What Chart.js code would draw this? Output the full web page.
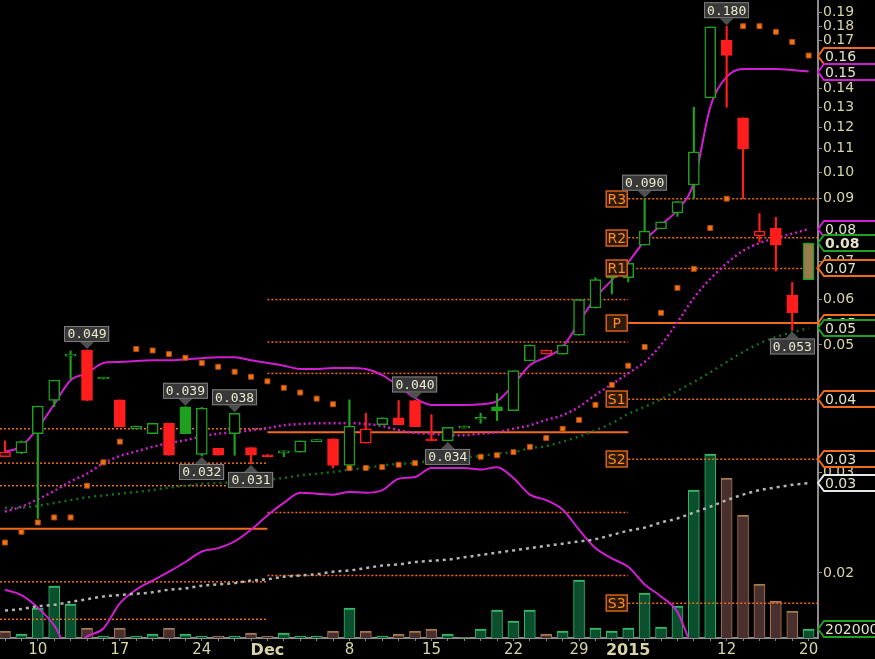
<!DOCTYPE html>
<html>
<head>
<meta charset="utf-8">
<title>Daily chart</title>
<script src="https://cdn.jsdelivr.net/npm/chart.js@4.4.1/dist/chart.umd.min.js"></script>
<style>
  html, body { margin: 0; padding: 0; background: #000; }
  #wrap { width: 875px; height: 659px; }
</style>
</head>
<body>
<div id="wrap"><canvas id="chart" width="875" height="659"></canvas></div>
<script>
// ---------- DATA ----------
const dates = [
  "2014-11-06","2014-11-07","2014-11-10","2014-11-11","2014-11-12","2014-11-13","2014-11-14",
  "2014-11-17","2014-11-18","2014-11-19","2014-11-20","2014-11-21","2014-11-24","2014-11-25",
  "2014-11-26","2014-11-28","2014-12-01","2014-12-02","2014-12-03","2014-12-04","2014-12-05",
  "2014-12-08","2014-12-09","2014-12-10","2014-12-11","2014-12-12","2014-12-15","2014-12-16",
  "2014-12-17","2014-12-18","2014-12-19","2014-12-22","2014-12-23","2014-12-24","2014-12-26",
  "2014-12-29","2014-12-30","2014-12-31","2015-01-02","2015-01-05","2015-01-06","2015-01-07",
  "2015-01-08","2015-01-09","2015-01-12","2015-01-13","2015-01-14","2015-01-15","2015-01-16",
  "2015-01-20"
];

const opens = [0.0319,0.0324,0.0350,0.0400,0.0478,0.0490,0.0436,0.0401,0.0357,0.0350,
  0.0365,0.0390,0.0322,0.0330,0.0350,0.0331,0.0321,0.0324,0.0325,0.0339,
  0.0343,0.0308,0.0337,0.0363,0.0373,0.0400,0.0341,0.0340,0.0358,0.0371,
  0.0390,0.0384,0.0469,0.0482,0.0482,0.0520,0.0580,0.0670,0.0655,0.0747,
  0.0797,0.0850,0.0951,0.1350,0.1700,0.1245,0.0775,0.0800,0.0611,0.0650];
const highs = [0.0340,0.0340,0.0391,0.0434,0.0488,0.0490,0.0438,0.0401,0.0361,0.0365,
  0.0365,0.0390,0.0389,0.0330,0.0380,0.0331,0.0322,0.0327,0.0340,0.0342,
  0.0343,0.0401,0.0380,0.0373,0.0400,0.0400,0.0378,0.0359,0.0361,0.0380,
  0.0411,0.0451,0.0500,0.0490,0.0500,0.0600,0.0655,0.0670,0.0694,0.0900,
  0.0820,0.0890,0.1300,0.1795,0.1800,0.1245,0.0848,0.0835,0.0643,0.0753];
const lows = [0.0319,0.0323,0.0249,0.0390,0.0436,0.0400,0.0436,0.0360,0.0357,0.0350,
  0.0321,0.0350,0.0320,0.0321,0.0321,0.0310,0.0319,0.0319,0.0325,0.0339,
  0.0305,0.0308,0.0337,0.0363,0.0363,0.0360,0.0340,0.0340,0.0358,0.0365,
  0.0369,0.0384,0.0469,0.0482,0.0482,0.0520,0.0580,0.0614,0.0644,0.0747,
  0.0797,0.0838,0.0900,0.1350,0.1300,0.0900,0.0756,0.0673,0.0530,0.0650];
const closes = [0.0325,0.0339,0.0391,0.0434,0.0482,0.0400,0.0438,0.0360,0.0361,0.0365,
  0.0321,0.0350,0.0388,0.0321,0.0380,0.0321,0.0319,0.0325,0.0340,0.0341,
  0.0308,0.0361,0.0357,0.0373,0.0363,0.0360,0.0340,0.0359,0.0360,0.0372,
  0.0384,0.0451,0.0500,0.0490,0.0500,0.0600,0.0650,0.0655,0.0694,0.0790,
  0.0820,0.0890,0.1086,0.1795,0.1600,0.1100,0.0790,0.0747,0.0569,0.0753];
const priorClose = 0.0335;

const volumes = [157000,90000,673000,1167000,763000,224000,45000,224000,45000,90000,
  224000,90000,45000,45000,45000,112000,45000,112000,45000,45000,
  157000,673000,157000,45000,90000,157000,202000,90000,10000,202000,
  628000,382000,628000,90000,157000,1302000,224000,157000,224000,1010000,
  247000,718000,3322000,4130000,3591000,2761000,1212000,830000,606000,202000];

const bbUpper = [0.0325,0.0333,0.0358,0.0394,0.0434,0.0446,0.0465,0.0467,0.0469,0.0470,
  0.0470,0.0472,0.0474,0.0476,0.0476,0.0470,0.0465,0.0460,0.0454,0.0454,
  0.0456,0.0456,0.0454,0.0443,0.0424,0.0404,0.0393,0.0393,0.0393,0.0394,
  0.0399,0.0426,0.0461,0.0476,0.0496,0.0548,0.0604,0.0649,0.0697,0.0760,
  0.0810,0.0860,0.0959,0.1300,0.1468,0.1516,0.1516,0.1516,0.1510,0.1500];
const bbLower = [0.0187,0.0183,0.0174,0.0162,0.0146,0.0155,0.0160,0.0177,0.0187,0.0194,
  0.0201,0.0209,0.0218,0.0221,0.0227,0.0238,0.0252,0.0265,0.0276,0.0275,
  0.0274,0.0277,0.0276,0.0279,0.0292,0.0294,0.0305,0.0305,0.0305,0.0303,
  0.0306,0.0293,0.0274,0.0268,0.0258,0.0238,0.0221,0.0212,0.0205,0.0191,
  0.0182,0.0171,0.0145,null,null,null,null,null,null,null];
const bbMid = [0.0256,0.0261,0.0269,0.0278,0.0289,0.0298,0.0311,0.0320,0.0326,0.0332,
  0.0337,0.0341,0.0346,0.0350,0.0352,0.0355,0.0358,0.0362,0.0364,0.0365,
  0.0365,0.0365,0.0364,0.0361,0.0355,0.0351,0.0350,0.0348,0.0348,0.0350,
  0.0352,0.0357,0.0362,0.0370,0.0377,0.0390,0.0409,0.0427,0.0446,0.0467,
  0.0500,0.0548,0.0604,0.0652,0.0694,0.0730,0.0753,0.0769,0.0782,0.0797];
const ma50 = [0.0260,0.0260,0.0262,0.0265,0.0268,0.0271,0.0273,0.0275,0.0277,0.0279,
  0.0282,0.0284,0.0286,0.0287,0.0288,0.0290,0.0291,0.0293,0.0296,0.0298,
  0.0300,0.0303,0.0305,0.0308,0.0310,0.0311,0.0314,0.0315,0.0318,0.0320,
  0.0323,0.0325,0.0330,0.0333,0.0339,0.0346,0.0355,0.0365,0.0379,0.0390,
  0.0402,0.0416,0.0431,0.0448,0.0467,0.0486,0.0503,0.0516,0.0526,0.0535];
const ma200 = [0.0172,0.0173,0.0175,0.0176,0.0178,0.0180,0.0182,0.0183,0.0184,0.0185,
  0.0187,0.0188,0.0190,0.0191,0.0192,0.0194,0.0195,0.0197,0.0198,0.0199,
  0.0201,0.0202,0.0204,0.0206,0.0207,0.0209,0.0210,0.0211,0.0213,0.0215,
  0.0217,0.0219,0.0221,0.0223,0.0225,0.0227,0.0229,0.0233,0.0237,0.0240,
  0.0245,0.0249,0.0255,0.0261,0.0268,0.0274,0.0279,0.0282,0.0285,0.0287];
const sar = [0.0226,0.0236,0.0245,0.0250,0.0250,0.0284,0.0312,0.0339,0.0492,0.0489,
  0.0482,0.0475,0.0465,0.0458,0.0449,0.0440,0.0432,0.0421,0.0413,0.0403,
  0.0394,0.0305,0.0305,0.0306,0.0309,0.0311,0.0314,0.0315,0.0318,0.0319,
  0.0321,0.0325,0.0332,0.0344,0.0357,0.0370,0.0393,0.0426,0.0460,0.0496,
  0.0569,0.0629,0.0679,0.0800,0.0900,0.1800,0.1800,0.1760,0.1690,0.1600];

// monthly pivot levels (R3, R2, R1, P, S1, S2, S3)
const pivotNames = ["R3","R2","R1","P","S1","S2","S3"];
const pivotNov = [0.0357,0.0311,0.0284,0.0239,0.0193,0.0166,null];
const pivotDec = [0.0600,0.0506,0.0446,0.0352,0.0255,0.0198,null];
const pivotJan = [0.0900,0.0769,0.0680,0.0546,0.0402,0.0316,0.0177];
const pivotStarts = ["2014-12-01","2015-01-02"];

// high / low callouts
const calloutHigh = [5, 11, 14, 25, 39, 44];
const calloutLow = [12, 15, 27, 48];

// axis labels
const yTicks = [0.02,0.03,0.04,0.05,0.06,0.07,0.08,0.09,0.10,0.11,0.12,0.13,0.14,0.15,0.16,0.17,0.18,0.19];
const tickDates = ["2014-11-10","2014-11-17","2014-11-24","2014-12-01","2014-12-08","2014-12-15",
  "2014-12-22","2014-12-29","2015-01-02","2015-01-12","2015-01-20"];
const tickLabels = ["10","17","24","Dec","8","15","22","29","2015","12","20"];

// ---------- STYLE ----------
const UP = "#1fa01f";
const DOWN = "#ff1d1d";
const ORANGE = "#f26a1b";
const MAGENTA = "#d21ed2";
const TXT = "#d8d4a6";
const X_MIN = -0.305, X_MAX = 49.57;
const Y_MIN = 0.0154, Y_MAX = 0.2;
const VOL_MAX = 14320000;

const idx = dates.map((d, i) => i);
const last = a => a[a.length - 1];
const prevClose = i => i === 0 ? priorClose : closes[i - 1];
const isUp = i => closes[i] >= prevClose(i);
const candleColor = i => isUp(i) ? UP : DOWN;

const xLabels = {};
tickDates.forEach((d, k) => { xLabels[dates.indexOf(d)] = tickLabels[k]; });

// ---------- DATASETS ----------
const datasets = [];

datasets.push({
  type: "bar",
  yAxisID: "yv",
  grouped: false,
  order: 10,
  data: idx.map(i => ({ x: i, y: volumes[i] })),
  barThickness: 11,
  backgroundColor: ctx => isUp(ctx.dataIndex || 0) ? "#0b4f2e" : "#4a2f2f",
  borderColor: ctx => isUp(ctx.dataIndex || 0) ? "#35b865" : "#a47a50",
  borderWidth: { top: 2, left: 1, right: 1, bottom: 0 }
});

const starts = pivotStarts.map(d => dates.indexOf(d));
const ranges = [[X_MIN, starts[0]], [starts[0], starts[1]], [starts[1], X_MAX]];
[pivotNov, pivotDec, pivotJan].forEach((levels, p) => {
  levels.forEach((v, k) => {
    if (v == null) return;
    const solid = pivotNames[k] === "P";
    datasets.push({
      type: "line",
      order: 9,
      data: [{ x: ranges[p][0], y: v }, { x: ranges[p][1], y: v }],
      borderColor: ORANGE,
      borderWidth: solid ? 2 : 1.5,
      borderDash: solid ? [] : [2, 2],
      pointRadius: 0
    });
  });
});

function lineSet(values, color, width, dash) {
  return {
    type: "line",
    order: 5,
    data: idx.map(i => ({ x: i, y: values[i] })),
    borderColor: color,
    borderWidth: width,
    borderDash: dash,
    pointRadius: 0,
    cubicInterpolationMode: "monotone"
  };
}
datasets.push(lineSet(ma200, "#b4b4b4", 2.5, [3, 4]));
datasets.push(lineSet(ma50, "#11701f", 2.5, [2, 4]));
datasets.push(lineSet(bbMid, MAGENTA, 2.5, [2, 3]));
datasets.push(lineSet(bbUpper, MAGENTA, 2, []));
datasets.push(lineSet(bbLower, MAGENTA, 2, []));

datasets.push({
  type: "line",
  order: 3,
  showLine: false,
  data: idx.map(i => ({ x: i, y: sar[i] })),
  pointStyle: "rect",
  pointRadius: 3.5,
  backgroundColor: "#ee7420",
  borderColor: "#b04a08",
  borderWidth: 1
});

// candle wicks
datasets.push({
  type: "bar",
  order: 2,
  grouped: false,
  data: idx.map(i => ({ x: i, y: [lows[i], highs[i]] })),
  barThickness: 1.5,
  minBarLength: 1,
  backgroundColor: ctx => candleColor(ctx.dataIndex || 0),
  borderWidth: 0
});

// candle bodies
datasets.push({
  type: "bar",
  order: 1,
  grouped: false,
  data: idx.map(i => ({ x: i, y: [opens[i], closes[i]] })),
  barThickness: 11,
  minBarLength: 2,
  borderSkipped: false,
  borderWidth: 1.5,
  borderColor: ctx => candleColor(ctx.dataIndex || 0),
  backgroundColor: ctx => {
    const i = ctx.dataIndex || 0;
    if (i === dates.length - 1) return "#9b7b4b";
    return closes[i] < opens[i] ? candleColor(i) : "#000";
  }
});

// ---------- PLUGINS ----------
const background = {
  id: "background",
  beforeDraw(chart) {
    const c = chart.ctx;
    c.save();
    c.fillStyle = "#000";
    c.fillRect(0, 0, chart.width, chart.height);
    c.restore();
  }
};

function callout(c, x, tip, text, below) {
  c.font = '13px "DejaVu Sans Mono"';
  const w = c.measureText(text).width + 6, h = 16;
  const boxY = below ? tip + 7 : tip - 7 - h;
  const edge = below ? boxY : boxY + h;
  c.fillStyle = "#4f4f4f";
  c.beginPath();
  c.moveTo(x, tip);
  c.lineTo(x - 7, edge);
  c.lineTo(x + 7, edge);
  c.closePath();
  c.fill();
  c.fillStyle = "#383838";
  c.fillRect(x - w / 2, boxY, w, h);
  c.strokeStyle = "#7c7c7c";
  c.lineWidth = 1;
  c.strokeRect(Math.round(x - w / 2) + 0.5, boxY + 0.5, Math.round(w) - 1, h - 1);
  c.fillStyle = "#ecead0";
  c.textAlign = "center";
  c.textBaseline = "middle";
  c.fillText(text, x, boxY + h / 2 + 1);
}

function tag(c, y, text, color, bold) {
  const x0 = 818, x1 = 824, x2 = 880, h = 8;
  c.beginPath();
  c.moveTo(x0, y);
  c.lineTo(x1, y - h);
  c.lineTo(x2, y - h);
  c.lineTo(x2, y + h);
  c.lineTo(x1, y + h);
  c.closePath();
  c.fillStyle = "#000";
  c.fill();
  c.strokeStyle = color;
  c.lineWidth = 2;
  c.stroke();
  c.font = (bold ? "bold " : "") + '14px "DejaVu Sans"';
  c.fillStyle = "#e6e2c6";
  c.textAlign = "left";
  c.textBaseline = "middle";
  c.fillText(text, x1 + 1, y + 1);
}

const overlays = {
  id: "overlays",
  afterDatasetsDraw(chart) {
    const c = chart.ctx;
    const xs = chart.scales.x, ys = chart.scales.y;
    c.save();
    // pivot level labels for the current month
    const xr = xs.getPixelForValue(starts[1]);
    pivotNames.forEach((n, k) => {
      const v = pivotJan[k];
      if (v == null) return;
      const y = Math.round(ys.getPixelForValue(v));
      c.fillStyle = "#2e1a0a";
      c.fillRect(xr - 22, y - 8, 21, 16);
      c.strokeStyle = "#d9601a";
      c.lineWidth = 1.5;
      c.strokeRect(xr - 22, y - 8, 21, 16);
      c.font = '14px "DejaVu Sans"';
      c.fillStyle = "#ff8a22";
      c.textAlign = "center";
      c.textBaseline = "middle";
      c.fillText(n, xr - 11.5, y + 1);
    });
    calloutHigh.forEach(i => {
      callout(c, xs.getPixelForValue(i), ys.getPixelForValue(highs[i]) - 1, highs[i].toFixed(3), false);
    });
    calloutLow.forEach(i => {
      callout(c, xs.getPixelForValue(i), ys.getPixelForValue(lows[i]) + 1, lows[i].toFixed(3), true);
    });
    c.restore();
  },
  afterDraw(chart) {
    const c = chart.ctx;
    const ys = chart.scales.y, yv = chart.scales.yv;
    c.save();
    const priceTags = [
      [pivotJan[2], ORANGE], [pivotJan[3], ORANGE], [pivotJan[4], ORANGE], [pivotJan[5], ORANGE],
      [last(sar), ORANGE], [last(bbUpper), MAGENTA], [last(bbMid), MAGENTA],
      [last(ma50), UP], [last(ma200), "#e8e8e8"]
    ];
    priceTags.forEach(([v, col]) => tag(c, Math.round(ys.getPixelForValue(v)), v.toFixed(2), col, false));
    tag(c, Math.round(ys.getPixelForValue(last(closes))), last(closes).toFixed(2), UP, true);
    tag(c, Math.round(yv.getPixelForValue(last(volumes))), String(last(volumes)), UP, false);
    c.restore();
  }
};

// ---------- CHART ----------
new Chart(document.getElementById("chart"), {
  type: "bar",
  data: { datasets },
  options: {
    responsive: false,
    animation: false,
    events: [],
    layout: { padding: 0, autoPadding: false },
    plugins: { legend: { display: false }, tooltip: { enabled: false } },
    scales: {
      x: {
        type: "linear",
        min: X_MIN,
        max: X_MAX,
        offset: false,
        bounds: "data",
        grid: { offset: false, drawOnChartArea: false, tickLength: 3, color: "#8a8a8a" },
        border: { color: "#8c8c8c", width: 2 },
        afterBuildTicks: s => { s.ticks = idx.map(i => ({ value: i })); },
        afterFit: s => { s.height = 21; s.paddingLeft = 0; s.paddingRight = 0; },
        ticks: {
          autoSkip: false,
          maxRotation: 0,
          minRotation: 0,
          padding: 0,
          color: TXT,
          callback: v => xLabels[v] || "",
          font: ctx => {
            const lab = ctx.tick ? xLabels[ctx.tick.value] : "";
            return lab && lab.length > 2
              ? { family: "DejaVu Sans", size: 16, weight: "bold" }
              : { family: "DejaVu Sans", size: 15 };
          }
        }
      },
      y: {
        type: "logarithmic",
        position: "right",
        min: Y_MIN,
        max: Y_MAX,
        grid: { drawOnChartArea: false, tickLength: 4, color: "#8a8a8a" },
        border: { color: "#8c8c8c", width: 2 },
        afterBuildTicks: s => { s.ticks = yTicks.map(v => ({ value: v })); },
        afterFit: s => { s.width = 57; s.paddingTop = 0; s.paddingBottom = 0; },
        ticks: {
          autoSkip: false,
          padding: 1,
          color: TXT,
          font: { family: "DejaVu Sans", size: 14 },
          callback: v => Number(v).toFixed(2)
        }
      },
      yv: {
        type: "linear",
        display: false,
        min: 0,
        max: VOL_MAX
      }
    }
  },
  plugins: [background, overlays]
});
</script>
</body>
</html>
